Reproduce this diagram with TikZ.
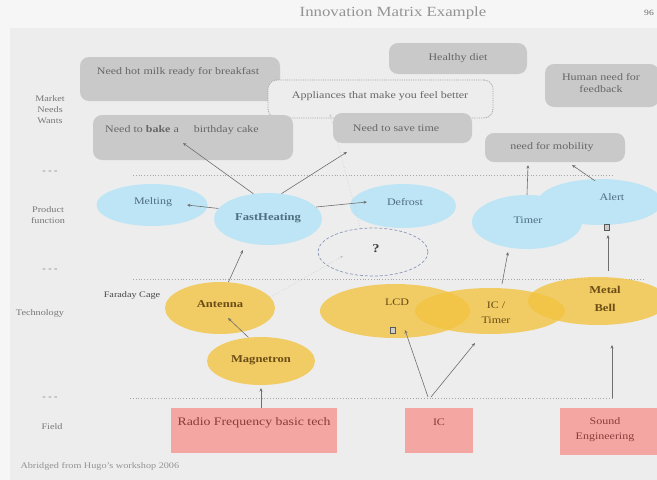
\documentclass[tikz,border=0pt]{standalone}
\usepackage{fontspec}
\setmainfont{Liberation Serif}[FakeStretch=1.2]
\usetikzlibrary{shapes.geometric,arrows.meta}
\definecolor{bgpage}{HTML}{F6F6F6}
\definecolor{bgmain}{HTML}{EDEDED}
\definecolor{needfill}{HTML}{C9C9C9}
\definecolor{needtext}{HTML}{666666}
\definecolor{pfill}{HTML}{BDE5F5}
\definecolor{ptext}{HTML}{4F6E80}
\definecolor{tfill}{HTML}{F3C443}
\definecolor{ttext}{HTML}{6B4C14}
\definecolor{ffill}{HTML}{F4A7A2}
\definecolor{ftext}{HTML}{8A3B3B}
\definecolor{rowtext}{HTML}{777777}
\definecolor{linecol}{HTML}{6F6F6F}
\definecolor{qline}{HTML}{8A98B8}
\begin{document}
\begin{tikzpicture}[x=1pt,y=-1pt,
  needbox/.style={rectangle,rounded corners=9pt,fill=needfill,draw=none,inner sep=0pt},
  needlbl/.style={text=needtext,font=\fontsize{10}{12.5}\selectfont,align=center,inner sep=0pt},
  pfunc/.style={ellipse,fill=pfill,draw=none,inner sep=0pt},
  plbl/.style={text=ptext,font=\fontsize{10}{12}\selectfont,align=center,inner sep=0pt},
  techell/.style={ellipse,fill=tfill,fill opacity=0.8,draw=none,inner sep=0pt},
  tlbl/.style={text=ttext,font=\fontsize{10}{15}\selectfont,align=center,inner sep=0pt},
  fieldbox/.style={rectangle,fill=ffill,draw=none,inner sep=0pt},
  fieldlbl/.style={text=ftext,font=\fontsize{10}{15}\selectfont,align=center,inner sep=0pt},
  rowlbl/.style={text=rowtext,font=\fontsize{8.5}{11}\selectfont,align=center,inner sep=0pt},
  sepline/.style={draw=gray!70,dotted,line width=0.8pt},
  conn/.style={draw=linecol,line width=0.6pt,-{Stealth[length=3.5pt,width=3pt]}},
  faint/.style={draw=gray!45,dotted,line width=0.6pt,-{Stealth[length=3pt,width=2.5pt]}},
  glyphbox/.style={rectangle,draw=gray!70!black,fill=gray!40,minimum width=5pt,minimum height=6pt,inner sep=0pt}]
\useasboundingbox (0,0) rectangle (657,480);
\fill[bgpage] (0,0) rectangle (657,480);
\fill[bgmain] (10,28) rectangle (657,480);

% title
\node[text=gray!85,font=\fontsize{14}{17}\selectfont] (title) at (393,13) {Innovation Matrix Example};
\node[text=gray!85!black,font=\fontsize{8}{10}\selectfont] (pnum) at (649,13) {96};

% row labels
\node[rowlbl] (rmarket) at (50,110) {Market\\ Needs\\ Wants};
\node[rowlbl] (rdash1) at (50,172) {- - -};
\node[rowlbl] (rproduct) at (48,215) {Product\\ function};
\node[rowlbl] (rdash2) at (50,270) {- - -};
\node[rowlbl] (rtech) at (40,313) {Technology};
\node[rowlbl] (rdash3) at (50,398) {- - -};
\node[rowlbl] (rfield) at (52,427) {Field};

% separators
\coordinate (s1a) at (133,175); \coordinate (s1b) at (612,175);
\coordinate (s2a) at (133,279); \coordinate (s2b) at (645,279);
\coordinate (s3a) at (130,398); \coordinate (s3b) at (612,398);
\draw[sepline] (s1a) -- (s1b);
\draw[sepline] (s2a) -- (s2b);
\draw[sepline] (s3a) -- (s3b);

% market needs
\node[needbox,minimum width=200pt,minimum height=44pt] (milk) at (180,79) {};
\node[needlbl] (milkt) at (178,72) {Need hot milk ready for breakfast};
\node[needbox,minimum width=138pt,minimum height=31pt] (diet) at (458,58.5) {};
\node[needlbl] (diett) at (458,58) {Healthy diet};
\node[rectangle,rounded corners=9pt,fill=bgmain,draw=gray!75,densely dotted,line width=0.8pt,minimum width=225pt,minimum height=38pt,inner sep=0pt] (appl) at (380.5,99) {};
\node[needlbl] (applt) at (380,96) {Appliances that make you feel better};
\node[needbox,minimum width=114pt,minimum height=43pt] (human) at (602,85.5) {};
\node[needlbl] (humant) at (601,83) {Human need for\\ feedback};
\node[needbox,minimum width=200pt,minimum height=45pt] (bake) at (193,137.5) {};
\node[needlbl] (baket) at (182,130) {Need to \textbf{bake} a\hspace{1.2em} birthday cake};
\node[needbox,minimum width=139pt,minimum height=30pt] (savetime) at (402.5,128) {};
\node[needlbl] (savetimet) at (396,128) {Need to save time};
\node[needbox,minimum width=140pt,minimum height=29pt] (mobility) at (555,147.5) {};
\node[needlbl] (mobilityt) at (552,147) {need for mobility};

% product functions
\node[pfunc,minimum width=111pt,minimum height=42pt] (melting) at (152,205) {};
\node[plbl] (meltingt) at (153,202) {Melting};
\node[pfunc,minimum width=108pt,minimum height=52pt] (fast) at (268,219) {};
\node[plbl,font=\fontsize{10.5}{12}\selectfont\bfseries] (fastt) at (268,218) {FastHeating};
\node[pfunc,minimum width=106pt,minimum height=44pt] (defrost) at (403,206) {};
\node[plbl] (defrostt) at (405,202) {Defrost};
\node[pfunc,minimum width=110pt,minimum height=54pt] (timer) at (527,222) {};
\node[plbl] (timert) at (528,220) {Timer};
\node[pfunc,minimum width=124pt,minimum height=46pt] (alert) at (600,202) {};
\node[plbl] (alertt) at (612,197) {Alert};
\node[ellipse,draw=qline,densely dashed,line width=0.7pt,minimum width=110pt,minimum height=48pt,inner sep=0pt] (question) at (373,252) {};
\node[text=black!75,font=\fontsize{12}{14}\selectfont\bfseries] (qmark) at (376,249) {?};

% technology
\node[techell,minimum width=110pt,minimum height=52pt] (antenna) at (220,308) {};
\node[tlbl,font=\fontsize{10.5}{12}\selectfont\bfseries] (antennat) at (220,304) {Antenna};
\node[techell,minimum width=108pt,minimum height=48pt] (magnetron) at (261,361) {};
\node[tlbl,font=\fontsize{10.5}{12}\selectfont\bfseries] (magnetront) at (261,360) {Magnetron};
\node[techell,minimum width=150pt,minimum height=54pt] (lcd) at (395,311) {};
\node[tlbl] (lcdt) at (397,302) {LCD};
\node[techell,minimum width=150pt,minimum height=46pt] (ictimer) at (490,311) {};
\node[tlbl] (ictimert) at (496,313) {IC /\\ Timer};
\node[techell,minimum width=140pt,minimum height=48pt] (bell) at (598,301) {};
\node[tlbl,font=\fontsize{10.5}{18}\selectfont\bfseries] (bellt) at (605,299) {Metal\\ Bell};
\node[text=gray!55!black,font=\fontsize{8.5}{10}\selectfont] (faraday) at (132,295) {Faraday Cage};

% field
\node[fieldbox,minimum width=166pt,minimum height=45pt] (rf) at (254,430.5) {};
\node[fieldlbl,font=\fontsize{11.5}{14}\selectfont] (rft) at (254,423) {Radio Frequency basic tech};
\node[fieldbox,minimum width=68pt,minimum height=45pt] (ic) at (439,430.5) {};
\node[fieldlbl] (ict) at (439,422) {IC};
\node[fieldbox,minimum width=105pt,minimum height=47pt] (sound) at (612,431.5) {};
\node[fieldlbl] (soundt) at (605,430) {Sound\\ Engineering};

% footer
\node[text=gray!85,font=\fontsize{8.5}{10}\selectfont,anchor=west] (footer) at (17,466) {Abridged from Hugo's workshop 2006};

% small glyph boxes
\node[glyphbox] (g1) at (393,330) {};
\node[glyphbox] (g2) at (607,227) {};

% connector endpoints
\coordinate (bakeTip) at (183,143);
\coordinate (saveTip) at (347,152);
\coordinate (meltTip) at (187,205);
\coordinate (defTip) at (367,202);
\coordinate (fastTip) at (243,250);
\coordinate (antTip) at (228,318);
\coordinate (magTip) at (261,388);
\coordinate (lcdTip) at (405,330);
\coordinate (ictTip) at (475,343);
\coordinate (ictStart) at (502,284);
\coordinate (timerTip) at (508,252);
\coordinate (mobTipA) at (528,165);
\coordinate (mobTipB) at (572,165);
\coordinate (bellTip) at (612,345);
\coordinate (alertTip) at (608,235);
\coordinate (bellStart) at (608,271);
\coordinate (icStartA) at (428,397);
\coordinate (icStartB) at (431,397);
\coordinate (soundStart) at (612,398);
\coordinate (qTipA) at (343,256);
\coordinate (applTip) at (330,114);

\draw[conn] (fast.120) -- (bakeTip);
\draw[conn] (fast.62) -- (saveTip);
\draw[conn] (fast.168) -- (meltTip);
\draw[conn] (fast.14) -- (defTip);
\draw[conn] (antenna.72) -- (fastTip);
\draw[conn] (magnetron.118) -- (antTip);
\draw[conn] (rf.north -| magTip) -- (magTip);
\draw[conn] (icStartA) -- (lcdTip);
\draw[conn] (icStartB) -- (ictTip);
\draw[conn] (ictStart) -- (timerTip);
\draw[conn] (timer.north) -- (mobTipA);
\draw[conn] (alert.north) ++(-5,2) -- (mobTipB);
\draw[conn] (soundStart) -- (bellTip);
\draw[conn] (bellStart) -- (alertTip);
\draw[faint] (antenna.12) -- (qTipA);
\draw[faint] (question.118) -- (applTip);
\end{tikzpicture}
\end{document}
